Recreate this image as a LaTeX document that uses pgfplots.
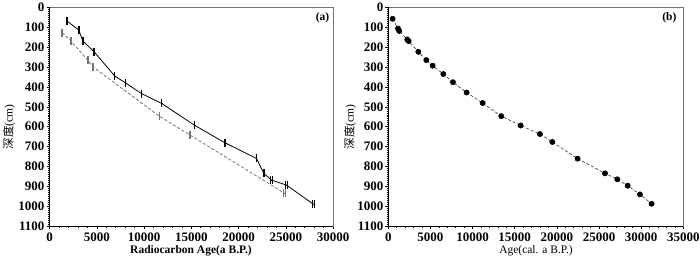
\documentclass[border=0pt]{standalone}
\usepackage{fontspec}
\setmainfont{Liberation Serif}
\newfontfamily\cjk{Noto Sans CJK SC}
\usepackage{pgfplots}
\usepackage{pgfplotstable}
\pgfplotsset{compat=1.18}

\pgfplotstableread{
x y e
1830 67 25
3100 114 25
3520 168 25
4720 223 25
6900 345 25
8030 379 25
9720 433 25
11870 483 25
15320 592 25
18560 681 25
21900 760 40
22680 835 60
23490 869 60
25070 894 90
27890 989 110
}\solidtab

\pgfplotstableread{
x y e
1340 126 25
2250 168 25
4050 265 30
4580 298 30
11620 547 30
14860 642 40
24900 936 90
}\dashtab

\pgfplotstableread{
x y
514 57
1150 106
1300 118
2250 161
2410 169
3560 223
4510 265
5260 293
6530 335
7670 376
9290 428
11190 481
13400 547
15700 594
17990 637
19460 677
22460 761
25710 835
27170 865
28400 897
29860 941
31240 988
}\caltab

\pgfplotsset{myax/.style={
  anchor=south west, scale only axis, height=218.5pt,
  ymin=0, ymax=1100, y dir=reverse,
  ytick distance=100, minor y tick num=9,
  xtick distance=5000, minor x tick num=4,
  tick align=outside, tick pos=left,
  major tick length=3pt, minor tick length=1.5pt,
  every tick/.style={black, line width=0.5pt},
  axis line style={black!55, line width=1pt},
  clip=false, scaled ticks=false,
  tick label style={font=\fontsize{13}{14}\selectfont\bfseries},
  /pgf/number format/1000 sep={},
  /pgf/number format/assume math mode=true,
  xticklabel style={yshift=-0.5pt},
  yticklabel style={xshift=1.5pt},
}}

\begin{document}
\begin{tikzpicture}[x=1pt,y=1pt]
\path[use as bounding box] (0,0) rectangle (700,259);

\begin{axis}[myax, at={(49.5pt,33pt)}, width=283.5pt, xmin=0, xmax=30000]
\addplot[black!55, densely dashed, line width=0.8pt,
  error bars/.cd, x dir=both, x explicit, error mark=|,
  error bar style={black!55, line width=0.8pt, solid},
  error mark options={black!55, mark size=4pt, line width=1pt, solid}]
  table[x=x, y=y, x error=e] {\dashtab};
\addplot[black, line width=0.8pt,
  error bars/.cd, x dir=both, x explicit, error mark=|,
  error bar style={black, line width=0.8pt},
  error mark options={black, mark size=4pt, line width=1pt}]
  table[x=x, y=y, x error=e] {\solidtab};
\draw[black, line width=1pt] (axis cs:0,0) -- (axis cs:0,1100) -- (axis cs:30000,1100);
\node[font=\fontsize{11.5}{12}\selectfont\bfseries] at (axis description cs:0.963,0.952) {(a)};
\end{axis}

\begin{axis}[myax, at={(388.3pt,33pt)}, width=295pt, xmin=0, xmax=35000]
\addplot[black!80, densely dashed, line width=0.6pt, mark=*,
  mark options={solid, black, mark size=2.6pt}]
  table[x=x, y=y] {\caltab};
\draw[black, line width=1pt] (axis cs:0,0) -- (axis cs:0,1100) -- (axis cs:35000,1100);
\node[font=\fontsize{11.5}{12}\selectfont\bfseries] at (axis description cs:0.953,0.952) {(b)};
\end{axis}

\node[font=\fontsize{11.5}{12}\selectfont\bfseries] at (191,8) {Radiocarbon Age(a B.P.)};
\node[font=\fontsize{11.5}{12}\selectfont] at (536,8) {Age(cal. a B.P.)};
\node[rotate=90, font=\fontsize{11.5}{12}\selectfont] at (9,132) {{\cjk 深度}(cm)};
\node[rotate=90, font=\fontsize{11.5}{12}\selectfont] at (350,132) {{\cjk 深度}(cm)};
\end{tikzpicture}
\end{document}
